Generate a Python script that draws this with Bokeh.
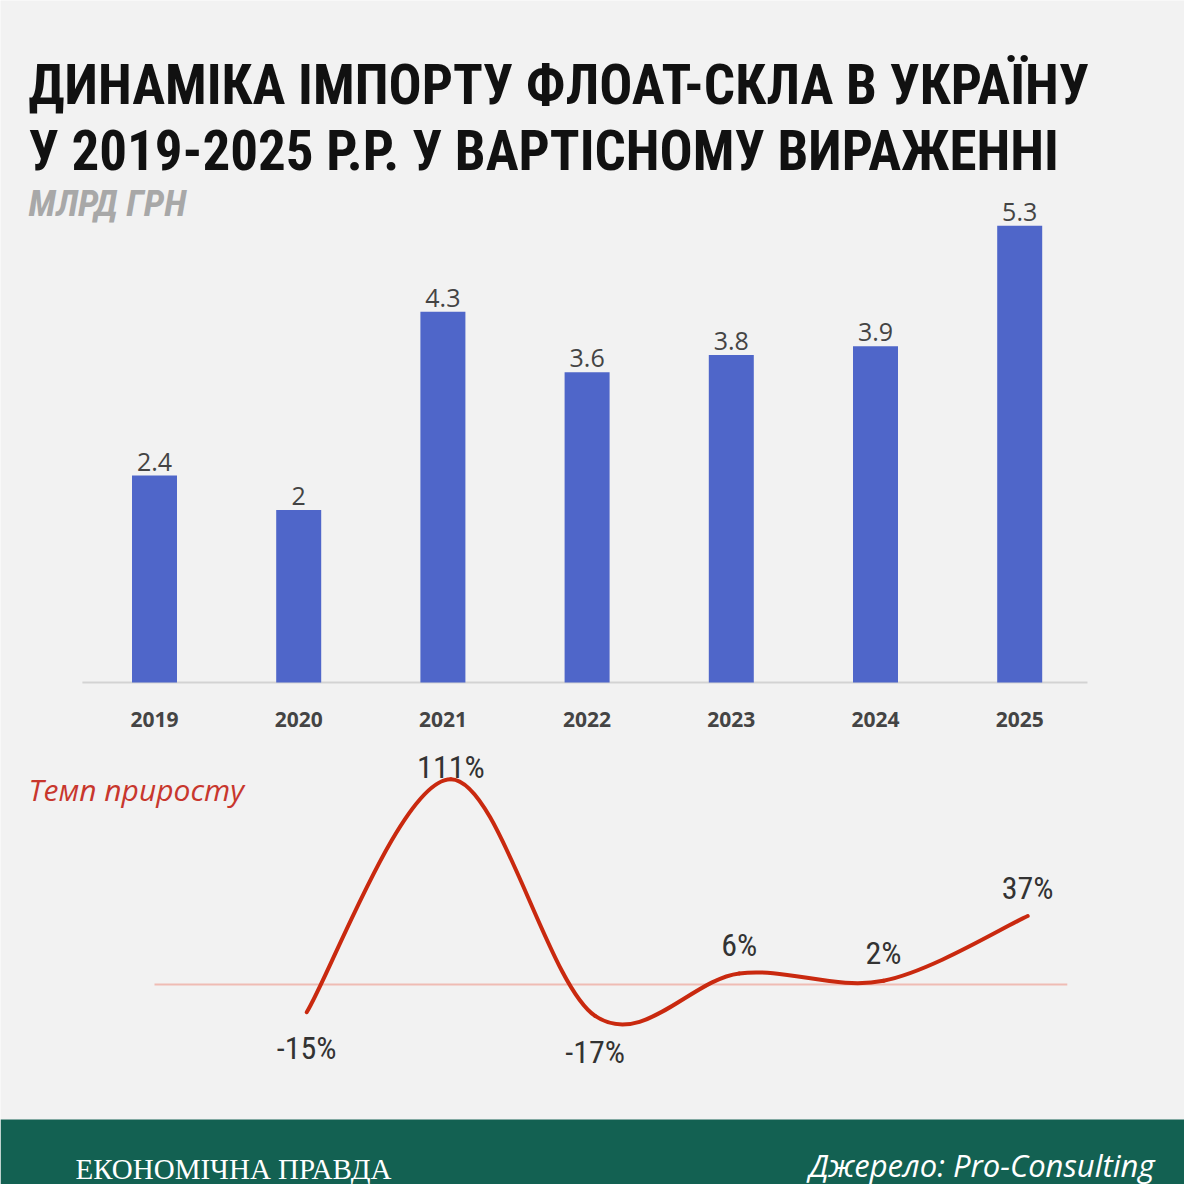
from bokeh.plotting import figure
from bokeh.models import Range1d, Label, ColumnDataSource
from bokeh.core.properties import value
from bokeh.embed import file_html
from bokeh.resources import INLINE

# ---- data ----
years = [2019, 2020, 2021, 2022, 2023, 2024, 2025]
year_labels = ["2019", "2020", "2021", "2022", "2023", "2024", "2025"]
values = [2.4, 2.0, 4.3, 3.6, 3.8, 3.9, 5.3]
value_labels = ["2.4", "2", "4.3", "3.6", "3.8", "3.9", "5.3"]
growth_years = [2020, 2021, 2022, 2023, 2024, 2025]
growth = [-15, 111, -17, 6, 2, 37]
growth_labels = ["-15%", "111%", "-17%", "6%", "2%", "37%"]

title_1 = "ДИНАМІКА ІМПОРТУ ФЛОАТ-СКЛА В УКРАЇНУ"
title_2 = "У 2019-2025 Р.Р. У ВАРТІСНОМУ ВИРАЖЕННІ"
unit_label = "МЛРД ГРН"
growth_title = "Темп приросту"
brand = "ЕКОНОМІЧНА ПРАВДА"
source = "Джерело: Pro-Consulting"

# ---- style ----
W = H = 1184
BG = "#f2f2f2"
BAR = "#4f66c9"
RED = "#c9290f"
GREEN = "#136152"
COND = "Roboto Condensed, DejaVu Sans Condensed, sans-serif"
SANS = "Open Sans"

step = 144.2          # px per year
x0px = 154            # px of first year
bar_scale = 86.2      # px per unit
base_px = 682         # px from top of bar baseline
g_scale = 1.85        # px per percent
g_zero_px = 984       # px from top of growth zero line
g_shift = 8           # px shift of the growth panel

x_start = years[0] - x0px / step
p = figure(width=W, height=H, output_backend="svg", toolbar_location=None,
           x_range=Range1d(x_start, x_start + W / step),
           y_range=Range1d(-(H - base_px) / bar_scale, base_px / bar_scale),
           min_border=0, background_fill_color=BG, border_fill_color=BG,
           outline_line_color=None)
p.axis.visible = False
p.grid.visible = False
gx_start = x_start - g_shift / step
p.extra_y_ranges = {"g": Range1d(-(H - g_zero_px) / g_scale, g_zero_px / g_scale),
                    "py": Range1d(H, 0)}
p.extra_x_ranges = {"px": Range1d(0, W), "gx": Range1d(gx_start, gx_start + W / step)}

# ---- bars ----
src = ColumnDataSource(dict(x=years, top=values, lab=value_labels, ylab=year_labels,
                            zero=[0] * len(years)))
p.segment(x0=years[0] - 0.5, x1=years[-1] + 0.47, y0=0, y1=0,
          line_color="#d3d3d3", line_width=2)
p.vbar(x="x", top="top", bottom=0, width=45 / step, source=src,
       fill_color=BAR, line_color=None)
p.text(x="x", y="top", text="lab", source=src, y_offset=-14,
       text_align="center", text_baseline="alphabetic",
       text_font=value(SANS), text_font_size="25px", text_color="#444444")
p.text(x="x", y="zero", text="ylab", source=src, y_offset=37,
       text_align="center", text_baseline="alphabetic",
       text_font=value(SANS), text_font_style="bold",
       text_font_size="21px", text_color="#444444")

# ---- growth line (smooth Catmull-Rom through the points) ----
pts = list(zip(growth_years, growth))
n = len(pts)
bz = dict(x0=[], y0=[], x1=[], y1=[], cx0=[], cy0=[], cx1=[], cy1=[])
for i in range(n - 1):
    pm = pts[max(i - 1, 0)]
    p0 = pts[i]
    p1 = pts[i + 1]
    p2 = pts[min(i + 2, n - 1)]
    bz["x0"].append(p0[0]); bz["y0"].append(p0[1])
    bz["x1"].append(p1[0]); bz["y1"].append(p1[1])
    bz["cx0"].append(p0[0] + (p1[0] - pm[0]) / 6)
    bz["cy0"].append(p0[1] + (p1[1] - pm[1]) / 6)
    bz["cx1"].append(p1[0] - (p2[0] - p0[0]) / 6)
    bz["cy1"].append(p1[1] - (p2[1] - p0[1]) / 6)

p.segment(x0=years[0], x1=years[-1] + 0.33, y0=0, y1=0, y_range_name="g",
          line_color="#efbcb4", line_width=2)
p.bezier(source=ColumnDataSource(bz), x0="x0", y0="y0", x1="x1", y1="y1",
         cx0="cx0", cy0="cy0", cx1="cx1", cy1="cy1",
         x_range_name="gx", y_range_name="g",
         line_color=RED, line_width=4, line_cap="round")

gmax = max(growth)
gsrc = ColumnDataSource(dict(
    x=growth_years, y=growth, lab=growth_labels,
    yo=[(-12 if v == gmax else -28) if v >= 0 else 36 for v in growth]))
p.text(x="x", y="y", text="lab", source=gsrc, y_offset="yo",
       x_range_name="gx", y_range_name="g",
       text_align="center", text_baseline="alphabetic",
       text_font=value(COND), text_font_size="32px", text_color="#333333")

# ---- titles & decorations ----
def lab(txt, x, y, size, color, font, style="normal", align="left"):
    p.add_layout(Label(x=x, y=y, text=txt, x_range_name="px", y_range_name="py",
                       text_font=font, text_font_size=size, text_font_style=style,
                       text_color=color, text_align=align,
                       text_baseline="alphabetic"))

lab(title_1, 28, 84, "55px", "#111111", COND, "bold")
lab(title_2, 28, 150, "55px", "#111111", COND, "bold")
lab(unit_label, 28, 203, "37px", "#a8a8a8", COND, "bold italic")
lab(growth_title, 28, 789, "30px", "#c8372d", SANS, "italic")

p.quad(left=0, right=W, top=1119, bottom=H, x_range_name="px", y_range_name="py",
       fill_color=GREEN, line_color=None)
lab(brand, 75, 1168, "29px", "#ffffff", "Liberation Serif")
lab(source, 1154, 1164, "31px", "#ffffff", SANS, "italic", "right")

open("out.html", "w").write(file_html(p, INLINE))
